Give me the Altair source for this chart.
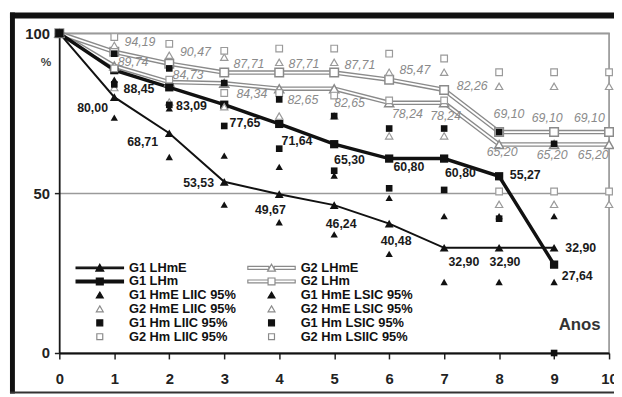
import altair as alt
import pandas as pd

# ---------------- data ----------------
YEARS_G1 = [0, 1, 2, 3, 4, 5, 6, 7, 8, 9]
YEARS_G2 = [0, 1, 2, 3, 4, 5, 6, 7, 8, 9, 10]
G1_LHME = [100, 80.00, 68.71, 53.53, 49.67, 46.24, 40.48, 32.90, 32.90, 32.90]
G1_LHM = [100, 88.45, 83.09, 77.65, 71.64, 65.30, 60.80, 60.80, 55.27, 27.64]
G2_LHME = [100, 89.74, 84.73, 84.34, 82.65, 82.65, 78.24, 78.24, 65.20, 65.20, 65.20]
G2_LHM = [100, 94.19, 90.47, 87.71, 87.71, 87.71, 85.47, 82.26, 69.10, 69.10, 69.10]

CI_YEARS_G1 = [1, 2, 3, 4, 5, 6, 7, 8, 9]
CI_YEARS_G2 = [1, 2, 3, 4, 5, 6, 7, 8, 9, 10]
G1_HME_LIIC = [73.6, 61.3, 46.4, 40.9, 37.1, 31.0, 22.2, 22.2, 22.2]
G1_HME_LSIC = [85.5, 76.5, 61.7, 58.2, 55.5, 48.5, 42.8, 42.8, 42.8]
G2_HME_LIIC = [83.0, 78.5, 77.0, 74.1, 74.1, 67.9, 67.9, 46.5, 46.5, 46.5]
G2_HME_LSIC = [96.2, 93.1, 92.5, 90.9, 90.9, 87.8, 87.8, 83.4, 83.4, 83.4]
G1_HM_LIIC = [84.0, 77.6, 71.0, 63.9, 57.0, 51.5, 51.0, 42.0, 0.0]
G1_HM_LSIC = [93.6, 89.0, 84.4, 79.3, 74.1, 70.2, 70.2, 69.1, 65.4]
G2_HM_LIIC = [89.0, 85.5, 81.3, 81.3, 80.5, 79.0, 79.0, 50.5, 50.5, 50.5]
G2_HM_LSIC = [98.8, 96.7, 94.5, 95.2, 95.2, 93.6, 92.1, 87.8, 87.8, 87.8]

X_TICKS = [0, 1, 2, 3, 4, 5, 6, 7, 8, 9, 10]
Y_TICKS = [0, 50, 100]

# legend entries, left column first, then right column
LEGEND_ORDER = [
    "G1 LHmE", "G1 LHm",
    "G1 HmE LIIC 95%", "G2 HmE LIIC 95%",
    "G1 Hm LIIC 95%", "G2 Hm LIIC 95%",
    "G2 LHmE", "G2 LHm",
    "G1 HmE LSIC 95%", "G2 HmE LSIC 95%",
    "G1 Hm LSIC 95%", "G2 Hm LSIIC 95%",
]

# ---------------- layout / style (kept apart from the values) ----------------
# pixel nudges of the value labels, one per point from year 1 on
G1_LHME_NUDGE = [(-22, 11), (-27, 9), (-26, 1), (-9, 16), (7, 19), (7, 18), (20, 14), (6, 14), (27, 0)]
G1_LHM_NUDGE = [(25, 19.5), (22.5, 19), (21, 18.5), (18, 17), (15.5, 16.5), (20, 9), (16.5, 15), (26.5, -1), (23.5, 11.5)]
G2_LHM_NUDGE = [(26, -10), (26.5, -12), (25, -9), (25, -9), (26, -8), (26, -10), (28.5, -3.6), (10, -18), (-7, -14), (-20, -14)]
G2_LHME_NUDGE = [(19, -4), (19, -7.6), (28, 11), (24, 11), (15.5, 14.7), (18.5, 11.4), (1.5, 13.4), (3, 8), (-2, 11), (-16, 11)]

BLACK = "#111111"
GRAY = "#8a8a8a"
FONT = "Liberation Sans"

TRI = "M0,-0.75L0.8,0.65L-0.8,0.65Z"
SQ = "M-0.7,-0.7H0.7V0.7H-0.7Z"
STRI = "M0,-0.65L0.7,0.55L-0.7,0.55Z"
SSQ = "M-0.6,-0.6H0.6V0.6H-0.6Z"
G1_TRI_LINE = "M-4.8,-0.15H4.8V0.15H-4.8Z " + TRI
G1_SQ_LINE = "M-4.8,-0.3H4.8V0.3H-4.8Z " + SQ
G2_TRI_LINE = "M-4.8,-0.3H-0.55V0.3H-4.8Z M0.55,-0.3H4.8V0.3H0.55Z " + TRI
G2_SQ_LINE = "M-4.8,-0.3H-0.7V0.3H-4.8Z M0.7,-0.3H4.8V0.3H0.7Z " + SQ
LEG_SHAPES = [G1_TRI_LINE, G1_SQ_LINE, STRI, STRI, SSQ, SSQ,
              G2_TRI_LINE, G2_SQ_LINE, STRI, STRI, SSQ, SSQ]
LEG_FILL = [BLACK, BLACK, BLACK, "white", BLACK, "white",
            "white", "white", BLACK, "white", BLACK, "white"]
LEG_STROKE = [BLACK, BLACK, BLACK, GRAY, BLACK, GRAY,
              GRAY, GRAY, BLACK, GRAY, BLACK, GRAY]

x_axis = alt.Axis(
    values=X_TICKS, format="d", labelFont=FONT, labelFontSize=15, labelFontWeight="bold",
    labelColor="#222222", labelPadding=13, labelFlush=False, labelOverlap=False,
    tickSize=6, tickColor="#222222", tickWidth=1.5, domainColor=BLACK, domainWidth=2,
    grid=False, title="Anos", titleX=548, titleY=-29, titleAlign="right",
    titleBaseline="middle", titleFont=FONT, titleFontSize=17, titleFontWeight="bold",
    titleColor="#333333",
)
y_axis = alt.Axis(
    values=Y_TICKS, labelFont=FONT, labelFontSize=15, labelFontWeight="bold",
    labelColor="#222222", labelPadding=5, tickSize=5, tickColor="#222222", tickWidth=1.5,
    domainColor=BLACK, domainWidth=1.5, grid=True, gridColor="#9a9a9a", gridWidth=1.5,
    title="%", titleAngle=0, titleX=-14, titleY=29, titleAlign="center",
    titleBaseline="middle", titleFont=FONT, titleFontSize=12, titleFontWeight="bold",
    titleColor="#444444",
)

X = alt.X("year:Q", scale=alt.Scale(domain=[0, 10], nice=False, zero=False), axis=x_axis)
Y = alt.Y("value:Q", scale=alt.Scale(domain=[0, 100], nice=False), axis=y_axis)


def sdf(years, values):
    return pd.DataFrame({"year": years, "value": values})


def fmt(v):
    return f"{v:.2f}".replace(".", ",")


layers = []

# picture frame of the original figure
frame = pd.DataFrame({"k": [0]})
layers.append(alt.Chart(frame).mark_rect(color=BLACK).encode(
    x=alt.value(-50), x2=alt.value(562), y=alt.value(-21), y2=alt.value(-15)))
layers.append(alt.Chart(frame).mark_rect(color=BLACK).encode(
    x=alt.value(-50), x2=alt.value(-45), y=alt.value(-21), y2=alt.value(365)))
layers.append(alt.Chart(frame).mark_rect(color="#333333").encode(
    x=alt.value(-50), x2=alt.value(562), y=alt.value(363), y2=alt.value(365)))

# G2 lines (double gray lines)
for vals in (G2_LHME, G2_LHM):
    d = sdf(YEARS_G2, vals)
    layers.append(alt.Chart(d).mark_line(color=GRAY, strokeWidth=4.6).encode(x=X, y=Y))
    layers.append(alt.Chart(d).mark_line(color="white", strokeWidth=1.8).encode(x=X, y=Y))

# G1 lines
layers.append(alt.Chart(sdf(YEARS_G1, G1_LHME)).mark_line(color=BLACK, strokeWidth=2).encode(x=X, y=Y))
layers.append(alt.Chart(sdf(YEARS_G1, G1_LHM)).mark_line(color=BLACK, strokeWidth=3.5).encode(x=X, y=Y))

# line markers
layers.append(alt.Chart(sdf(YEARS_G2, G2_LHME)).mark_point(
    shape="triangle-up", size=85, filled=True, fill="white", stroke=GRAY, strokeWidth=1.5, opacity=1
).encode(x=X, y=Y))
layers.append(alt.Chart(sdf(YEARS_G2, G2_LHM)).mark_point(
    shape="square", size=75, filled=True, fill="white", stroke=GRAY, strokeWidth=1.5, opacity=1
).encode(x=X, y=Y))
layers.append(alt.Chart(sdf(YEARS_G1, G1_LHME)).mark_point(
    shape="triangle-up", size=80, filled=True, color=BLACK, opacity=1
).encode(x=X, y=Y))
layers.append(alt.Chart(sdf(YEARS_G1, G1_LHM)).mark_point(
    shape="square", size=70, filled=True, color=BLACK, opacity=1
).encode(x=X, y=Y))

# confidence interval points
for yrs, vals, shape, g2 in [
    (CI_YEARS_G2, G2_HME_LIIC, "triangle-up", True),
    (CI_YEARS_G2, G2_HME_LSIC, "triangle-up", True),
    (CI_YEARS_G2, G2_HM_LIIC, "square", True),
    (CI_YEARS_G2, G2_HM_LSIC, "square", True),
    (CI_YEARS_G1, G1_HME_LIIC, "triangle-up", False),
    (CI_YEARS_G1, G1_HME_LSIC, "triangle-up", False),
    (CI_YEARS_G1, G1_HM_LIIC, "square", False),
    (CI_YEARS_G1, G1_HM_LSIC, "square", False),
]:
    size = 55 if shape == "triangle-up" else 45
    if g2:
        m = alt.Chart(sdf(yrs, vals)).mark_point(
            shape=shape, size=size, filled=True, fill="white", stroke="#9a9a9a", strokeWidth=1.2, opacity=1)
    else:
        m = alt.Chart(sdf(yrs, vals)).mark_point(
            shape=shape, size=size, filled=True, color=BLACK, opacity=1)
    layers.append(m.encode(x=X, y=Y))

# value labels
for yrs, vals, nudges, g2 in [
    (YEARS_G2, G2_LHM, G2_LHM_NUDGE, True),
    (YEARS_G2, G2_LHME, G2_LHME_NUDGE, True),
    (YEARS_G1, G1_LHME, G1_LHME_NUDGE, False),
    (YEARS_G1, G1_LHM, G1_LHM_NUDGE, False),
]:
    ldf = pd.DataFrame({"year": yrs[1:], "value": vals[1:], "label": [fmt(v) for v in vals[1:]]})
    ldf["key"] = range(len(ldf))
    for k, (dx, dy) in enumerate(nudges):
        base = alt.Chart(ldf).transform_filter(alt.datum.key == k)
        if g2:
            t = base.mark_text(dx=dx, dy=dy, align="center", baseline="middle", font=FONT,
                               fontSize=12.5, fontStyle="italic", color=GRAY)
        else:
            t = base.mark_text(dx=dx, dy=dy, align="center", baseline="middle", font=FONT,
                               fontSize=12.5, fontWeight="bold", color="#1a1a1a")
        layers.append(t.encode(x=X, y=Y, text="label:N"))

# legend (its marks carry no position and are not drawn; only the legend is)
leg_df = pd.DataFrame({"series": LEGEND_ORDER, "year": [None] * 12, "value": [None] * 12})
legend = alt.Legend(
    orient="none", legendX=17, legendY=231, columns=2, title=None, padding=0,
    labelFont=FONT, labelFontSize=13, labelFontWeight="bold", labelColor=BLACK, labelLimit=0,
    symbolSize=100, symbolStrokeWidth=1.2, symbolOffset=17.5, labelOffset=23,
    rowPadding=-0.4, columnPadding=9,
)
layers.append(alt.Chart(leg_df).mark_point(filled=True, opacity=1).encode(
    x=X, y=Y,
    shape=alt.Shape("series:N", scale=alt.Scale(domain=LEGEND_ORDER, range=LEG_SHAPES), legend=legend),
    fill=alt.Fill("series:N", scale=alt.Scale(domain=LEGEND_ORDER, range=LEG_FILL), legend=legend),
    stroke=alt.Stroke("series:N", scale=alt.Scale(domain=LEGEND_ORDER, range=LEG_STROKE), legend=legend),
))

chart = alt.layer(*layers).properties(
    width=557, height=324,
    padding={"left": 52, "top": 23, "right": 5, "bottom": 41},
    autosize=alt.AutoSizeParams(type="none"),
).configure_view(stroke=GRAY, strokeWidth=1.5)

chart.save("out.html", embed_options={"renderer": "svg", "actions": False})
